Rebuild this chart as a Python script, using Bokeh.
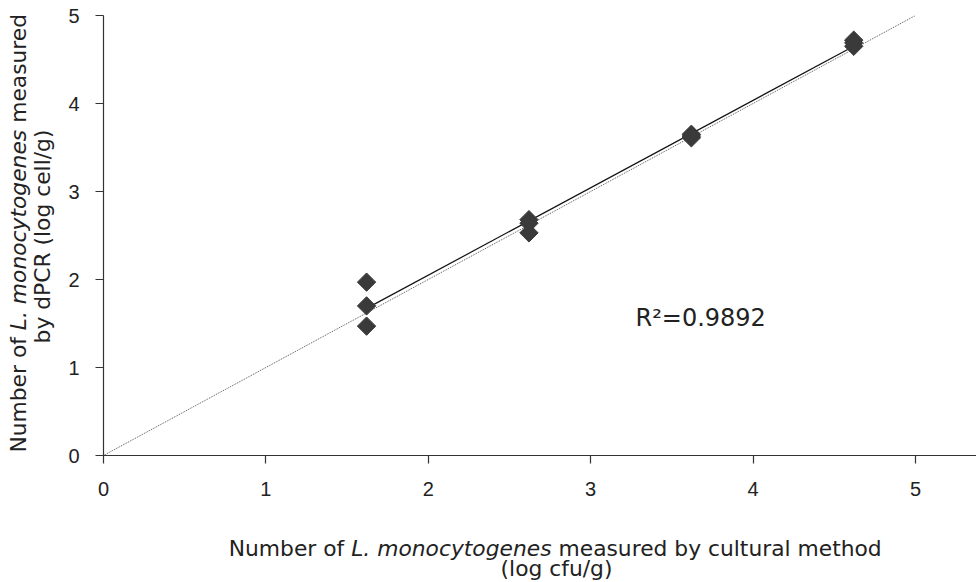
import numpy as np
from bokeh.plotting import figure
from bokeh.models import Label, Range1d, FixedTicker
from bokeh.layouts import column, row
from bokeh.core.properties import value
from bokeh.embed import file_html
from bokeh.resources import INLINE

# L. monocytogenes counts: cultural method (x) vs dPCR (y), log units
culture_log_cfu = [1.62, 1.62, 1.62, 2.62, 2.62, 2.62, 3.62, 3.62, 3.62, 4.62, 4.62, 4.62]
dpcr_log_cell = [1.97, 1.70, 1.47, 2.68, 2.64, 2.53, 3.65, 3.63, 3.61, 4.72, 4.65, 4.69]
tick_values = [0, 1, 2, 3, 4, 5]
r2_text = "R\u00b2=0.9892"

W, H = 976, 582
TITLE_W = 60          # strip holding the vertical title
MAIN_H = 510          # height of the plotting row
TOP_B, BOT_B = 15, 55  # frame borders of the plotting row
X_END, Y_END = 5.376, 5.0

main = figure(width=W - TITLE_W, height=MAIN_H, output_backend="svg", toolbar_location=None,
              x_range=Range1d(0, X_END), y_range=Range1d(0, Y_END),
              min_border_left=43, min_border_right=0,
              min_border_top=TOP_B, min_border_bottom=BOT_B)
main.outline_line_color = None
main.grid.visible = False

for ax in (main.xaxis[0], main.yaxis[0]):
    ax.ticker = FixedTicker(ticks=tick_values)
    ax.minor_tick_line_color = None
    ax.axis_line_color = "#333333"
    ax.axis_line_width = 1.2
    ax.major_tick_line_color = "#333333"
    ax.major_tick_line_width = 1.2
    ax.major_tick_in = 0
    ax.major_tick_out = 8
    ax.major_label_text_font = "Liberation Sans"
    ax.major_label_text_font_size = "20px"
    ax.major_label_text_color = "#222222"
main.xaxis[0].major_label_standoff = 18
main.yaxis[0].major_label_standoff = 16

# 1:1 reference line
main.line([0, 5], [0, 5], line_color="#555555", line_width=1, line_dash="1 1")

# least-squares fit over the measured range
slope, intercept = np.polyfit(culture_log_cfu, dpcr_log_cell, 1)
fx = np.array([min(culture_log_cfu), max(culture_log_cfu)])
main.line(fx, slope * fx + intercept, line_color="#111111", line_width=1.2)

main.scatter(culture_log_cfu, dpcr_log_cell, marker="square", angle=np.pi / 4,
             size=13, fill_color="#3a3a3a", line_color="#3a3a3a")

main.add_layout(Label(x=3.276, y=1.568, text=r2_text, text_font="DejaVu Sans",
                      text_font_size="24px", text_color="#222222",
                      text_baseline="alphabetic"))

FONT = "DejaVu Sans"
FS = 21.8
SPACE = 0.318

# vertical title strip; its frame lines up with the plot frame, and its
# y data runs in pixels measured up from the row's bottom edge
left = figure(width=TITLE_W, height=MAIN_H, output_backend="svg", toolbar_location=None,
              x_range=Range1d(0, TITLE_W), y_range=Range1d(BOT_B, MAIN_H - TOP_B),
              x_axis_location=None, y_axis_location=None,
              min_border_left=0, min_border_right=0,
              min_border_top=TOP_B, min_border_bottom=BOT_B)
left.outline_line_color = None
left.grid.visible = False

seg_y = [("Number of", "normal", 5.617),
         ("L. monocytogenes", "italic", 9.191 + SPACE),
         ("measured", "normal", 5.336 - 2 * SPACE)]
total_y = sum(s[2] for s in seg_y) * FS
pos = MAIN_H - 236 - total_y / 2
ys, txts, styles = [], [], []
for txt, style, w in seg_y:
    ys.append(pos)
    txts.append(txt)
    styles.append(style)
    pos += w * FS
left.text(x=[18] * 3, y=ys, text=txts, text_font_style=styles, angle=np.pi / 2,
          text_font=value(FONT), text_font_size=f"{FS}px", text_color="#222222",
          text_baseline="middle", text_align="left")
left.text(x=[42], y=[MAIN_H - 236], text=["by dPCR (log cell/g)"], angle=np.pi / 2,
          text_font=value(FONT), text_font_size=f"{FS}px", text_color="#222222",
          text_baseline="middle", text_align="center")

# horizontal title under the plot
BOT_H = H - MAIN_H
bottom = figure(width=W, height=BOT_H, output_backend="svg", toolbar_location=None,
                x_range=Range1d(0, W), y_range=Range1d(0, BOT_H),
                x_axis_location=None, y_axis_location=None, min_border=0)
bottom.outline_line_color = None
bottom.grid.visible = False

seg_x = [("Number of", "normal", 5.617),
         ("L. monocytogenes", "italic", 9.191 + SPACE),
         ("measured by cultural method", "normal", 15.169 - SPACE)]
total = sum(s[2] for s in seg_x) * FS
pos = 555 - total / 2
xs, txts, styles = [], [], []
for txt, style, w in seg_x:
    xs.append(pos)
    txts.append(txt)
    styles.append(style)
    pos += w * FS
bottom.text(x=xs, y=[H - 548] * 3, text=txts, text_font_style=styles,
            text_font=value(FONT), text_font_size=f"{FS}px", text_color="#222222",
            text_baseline="middle", text_align="left")
bottom.text(x=[556], y=[H - 568], text=["(log cfu/g)"],
            text_font=value(FONT), text_font_size=f"{FS}px", text_color="#222222",
            text_baseline="middle", text_align="center")

layout = column(row(left, main, spacing=0), bottom, spacing=0)
open("out.html", "w").write(file_html(layout, INLINE))
